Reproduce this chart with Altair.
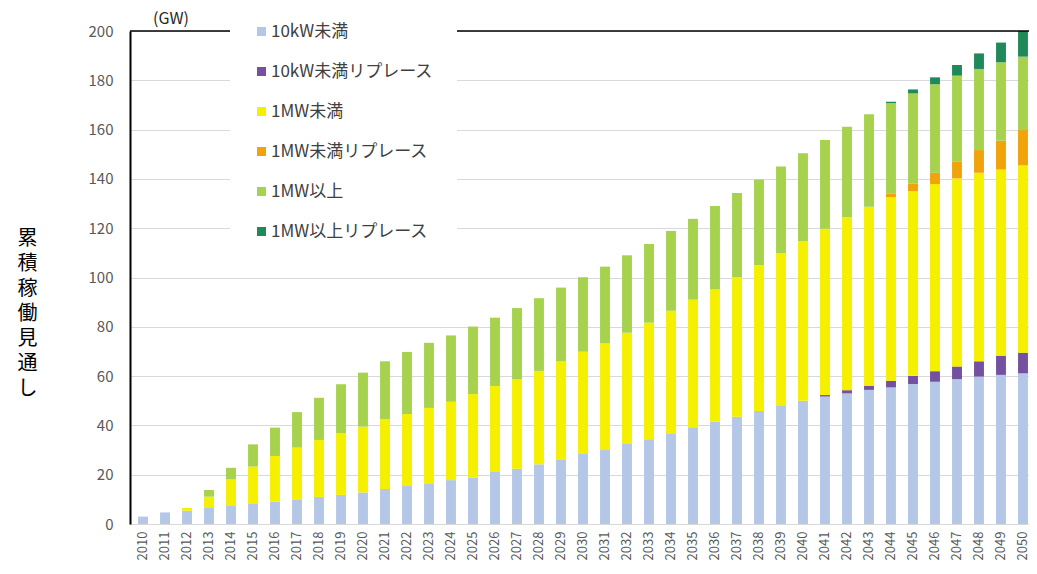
import altair as alt
import pandas as pd

years = [str(y) for y in range(2010, 2051)]

series = ["10kW未満", "10kW未満リプレース", "1MW未満", "1MW未満リプレース", "1MW以上", "1MW以上リプレース"]
colors = ["#b4c7e7", "#7451a0", "#f5f000", "#f0a30a", "#a6d24e", "#20895a"]

under10kw = [3.0, 4.7, 5.4, 6.8, 7.3, 8.4, 9.1, 10.0, 11.0, 11.8, 12.8, 14.2, 15.4, 16.5, 17.8, 18.9,
             21.1, 22.4, 24.2, 26.2, 28.4, 30.0, 32.5, 34.4, 36.8, 39.2, 41.5, 43.5, 45.8, 47.9, 50.0,
             51.7, 53.0, 54.4, 55.4, 56.8, 57.7, 58.8, 59.8, 60.5, 61.1]
under10kw_rep = [0.0] * 31 + [0.6, 1.3, 1.7, 2.7, 3.3, 4.3, 5.1, 6.2, 7.8, 8.4]
under1mw = [0.0, 0.0, 1.1, 4.3, 10.8, 14.9, 18.5, 21.0, 23.1, 25.0, 26.7, 28.3, 29.2, 30.6, 31.8, 33.8,
            34.9, 36.3, 37.9, 39.8, 41.5, 43.3, 45.1, 47.3, 49.7, 51.8, 53.7, 56.6, 59.3, 61.9, 64.8,
            67.5, 70.1, 72.6, 74.4, 74.9, 75.9, 76.3, 76.5, 75.5, 76.0]
under1mw_rep = [0.0] * 34 + [1.5, 3.2, 4.6, 6.8, 9.2, 11.7, 14.3]
over1mw = [0.0, 0.0, 0.0, 2.7, 4.7, 9.0, 11.5, 14.4, 17.1, 19.9, 21.9, 23.5, 25.2, 26.4, 26.9, 27.4,
           27.7, 28.9, 29.5, 29.9, 30.2, 31.1, 31.4, 31.9, 32.4, 32.8, 33.8, 34.2, 34.7, 35.2, 35.6,
           36.0, 36.8, 37.5, 36.7, 36.5, 35.9, 34.9, 32.9, 31.8, 29.8]
over1mw_rep = [0.0] * 34 + [0.6, 1.6, 2.8, 4.3, 6.3, 8.0, 10.4]

values = [under10kw, under10kw_rep, under1mw, under1mw_rep, over1mw, over1mw_rep]
y_ticks = list(range(0, 201, 20))
y_title = ["累", "積", "稼", "働", "見", "通", "し"]
unit_label = "(GW)"

rows = []
for i, name in enumerate(series):
    for yr, v in zip(years, values[i]):
        rows.append({"year": yr, "series": name, "value": v, "order": i})
df = pd.DataFrame(rows)

FONT = "Noto Sans CJK JP"

bars = alt.Chart(df).mark_bar().encode(
    x=alt.X("year:N", sort=years,
            scale=alt.Scale(paddingInner=0.55, paddingOuter=0.366),
            axis=alt.Axis(title=None, labelAngle=270, labelFontSize=13, labelColor="#595959",
                          labelFont=FONT, domain=False, ticks=False, labelPadding=7)),
    y=alt.Y("value:Q", stack="zero",
            scale=alt.Scale(domain=[0, 200], nice=False),
            axis=alt.Axis(values=y_ticks, title=y_title, titleAngle=0, titleX=-103, titleY=197,
                          titleAlign="center", titleBaseline="top", titleLineHeight=25,
                          titleFontSize=20, titleFontWeight="normal", titleColor="#000000",
                          titleFont=FONT,
                          labelFontSize=15, labelColor="#595959", labelFont=FONT, labelPadding=17,
                          ticks=False, domainColor="#000000", domainWidth=2,
                          grid=True, gridColor="#d9d9d9", gridWidth=1)),
    color=alt.Color("series:N", scale=alt.Scale(domain=series, range=colors),
                    legend=alt.Legend(orient="none", legendX=100, legendY=-31, title=None,
                                      symbolType="square", symbolSize=81, symbolStrokeWidth=0,
                                      labelFontSize=17, labelColor="#404040", labelFont=FONT,
                                      rowPadding=22, padding=23, fillColor="white",
                                      labelOffset=1, labelLimit=400)),
    order=alt.Order("order:Q"),
)

top_rule = alt.Chart(pd.DataFrame({"v": [200]})).mark_rule(color="#000000", strokeWidth=1.5).encode(
    y=alt.Y("v:Q")
)

unit = alt.Chart(pd.DataFrame({"t": [unit_label]})).mark_text(
    fontSize=16, color="#262626", font=FONT, align="center", baseline="middle"
).encode(text="t:N", x=alt.value(41), y=alt.value(-12))

chart = alt.layer(bars, top_rule, unit).properties(
    width=906, height=493,
    padding={"left": 122, "top": 23, "right": -7, "bottom": 42},
    autosize=alt.AutoSizeParams(type="none"),
).configure_view(stroke=None).configure(font=FONT)

chart.save("out.html", embed_options={"renderer": "svg", "actions": False})
